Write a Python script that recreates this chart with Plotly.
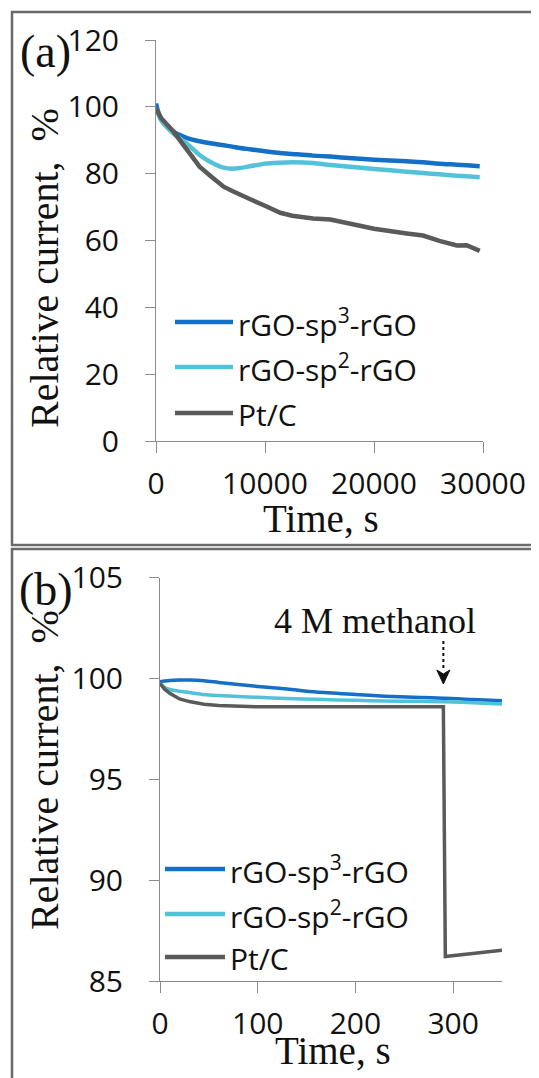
import plotly.graph_objects as go

# ---------------- data: panel (a) ----------------
time_a = [0, 500, 1600, 3000, 4000, 5000, 6200, 7000, 7700, 8600, 10000, 11400,
          12500, 14400, 16000, 18000, 20000, 23000, 24500, 26000, 27600, 28500, 29700]
sp3_a = [101.0, 96.0, 92.6, 90.5, 89.7, 89.1, 88.5, 88.1, 87.7, 87.3, 86.7, 86.2,
         85.9, 85.4, 85.1, 84.6, 84.2, 83.7, 83.4, 83.0, 82.7, 82.5, 82.2]
sp2_a = [99.5, 96.0, 92.0, 88.5, 85.6, 83.5, 81.8, 81.5, 81.7, 82.2, 83.0, 83.3,
         83.4, 83.2, 82.6, 82.0, 81.4, 80.6, 80.2, 79.8, 79.4, 79.2, 78.9]
ptc_a = [99.5, 96.5, 92.6, 86.5, 82.1, 79.3, 76.1, 74.8, 73.6, 72.4, 70.4, 68.3,
         67.4, 66.6, 66.3, 65.0, 63.5, 62.1, 61.5, 59.9, 58.5, 58.6, 56.9]

# ---------------- data: panel (b) ----------------
time_b = [0, 5, 10, 20, 30, 45, 60, 80, 100, 130, 160, 200, 230, 260, 290, 292, 320, 350]
sp3_b = [99.83, 99.87, 99.9, 99.92, 99.92, 99.88, 99.8, 99.7, 99.6, 99.47, 99.32,
         99.2, 99.12, 99.07, 99.02, 99.01, 98.95, 98.89]
sp2_b = [99.75, 99.55, 99.45, 99.36, 99.3, 99.2, 99.15, 99.1, 99.06, 99.0, 98.96,
         98.91, 98.88, 98.86, 98.84, 98.84, 98.79, 98.73]
ptc_b = [99.75, 99.45, 99.26, 98.98, 98.85, 98.72, 98.65, 98.6, 98.59, 98.59, 98.59,
         98.59, 98.59, 98.59, 98.59, 86.21, 86.35, 86.52]

series_names = ["rGO-sp<sup>3</sup>-rGO", "rGO-sp<sup>2</sup>-rGO", "Pt/C"]
series_colors = ["#1470C6", "#52C2DA", "#5A5A5A"]

xticks_a = [0, 10000, 20000, 30000]
yticks_a = [0, 20, 40, 60, 80, 100, 120]
xticks_b = [0, 100, 200, 300]
yticks_b = [85, 90, 95, 100, 105]

x_title = "Time, s"
y_title = "Relative current,  %"
arrow_time = 290
arrow_label = "4 M methanol"

# the page body adds an 8px margin; positions below are in window pixels
OX, OY = 8, 8
FW, FH = 539 - OX, 1078 - OY


def px(x):
    return (x - OX) / FW


def py(y):
    return 1 - (y - OY) / FH


SANS = "Open Sans, Liberation Sans, sans-serif"
SERIF = "Liberation Serif, Times New Roman, serif"
AXC = "#8C8C8C"
TXT = "#111111"

fig = go.Figure()

panel_a = [sp3_a, sp2_a, ptc_a]
panel_b = [sp3_b, sp2_b, ptc_b]
for i, (ys, name, col) in enumerate(zip(panel_a, series_names, series_colors)):
    fig.add_trace(go.Scatter(
        x=time_a, y=ys, mode="lines", name=name, showlegend=False,
        xaxis="x", yaxis="y",
        line=dict(color=col, width=4.5,
                  shape="spline" if i < 2 else "linear", smoothing=0.8),
    ))
for i, (ys, name, col) in enumerate(zip(panel_b, series_names, series_colors)):
    fig.add_trace(go.Scatter(
        x=time_b, y=ys, mode="lines", name=name, showlegend=False,
        xaxis="x2", yaxis="y2",
        line=dict(color=col, width=3.5,
                  shape="spline" if i < 2 else "linear", smoothing=0.8),
    ))


def xaxis_cfg(domain, rng, ticks, anchor):
    return dict(
        domain=domain, range=rng, anchor=anchor, automargin=False,
        tickvals=ticks, ticktext=[str(t) for t in ticks],
        ticks="outside", ticklen=11, tickcolor=AXC, tickwidth=1,
        showline=True, linecolor=AXC, linewidth=1,
        showgrid=False, zeroline=False,
        tickfont=dict(family=SANS, size=30, color=TXT),
        ticklabelstandoff=5,
    )


def yaxis_cfg(domain, rng, ticks, anchor):
    return dict(
        domain=domain, range=rng, anchor=anchor, automargin=False,
        tickvals=ticks, ticktext=[str(t) for t in ticks],
        ticks="outside", ticklen=10, tickcolor=AXC, tickwidth=1,
        showline=True, linecolor=AXC, linewidth=1,
        showgrid=False, zeroline=False,
        tickfont=dict(family=SANS, size=30, color=TXT),
        ticklabelstandoff=20,
    )


shapes = []
annotations = []

# outer frames
shapes.append(dict(type="rect", xref="paper", yref="paper",
                   x0=px(12), x1=1.05, y0=py(545), y1=py(12),
                   line=dict(color="#6A6A6A", width=2.5)))
shapes.append(dict(type="rect", xref="paper", yref="paper",
                   x0=px(12), x1=1.05, y0=-0.05, y1=py(549),
                   line=dict(color="#6A6A6A", width=2.5)))

# panel labels
annotations.append(dict(text="(a)", xref="paper", yref="paper", x=px(45), y=py(51),
                        showarrow=False, xanchor="center", yanchor="middle",
                        font=dict(family=SERIF, size=46, color=TXT)))
annotations.append(dict(text="(b)", xref="paper", yref="paper", x=px(46), y=py(589),
                        showarrow=False, xanchor="center", yanchor="middle",
                        font=dict(family=SERIF, size=46, color=TXT)))

# axis titles
for (xc, yc) in [(321, 519), (333, 1050)]:
    annotations.append(dict(text=x_title, xref="paper", yref="paper", x=px(xc), y=py(yc),
                            showarrow=False, xanchor="center", yanchor="middle",
                            font=dict(family=SERIF, size=39, color=TXT)))
for (xc, yc) in [(44, 268), (44, 770)]:
    annotations.append(dict(text=y_title, xref="paper", yref="paper", x=px(xc), y=py(yc),
                            showarrow=False, xanchor="center", yanchor="middle", textangle=-90,
                            font=dict(family=SERIF, size=40, color=TXT)))

# manual legends
legend_a = dict(x0=175, x1=233, tx=236, rows=[322, 367, 413])
legend_b = dict(x0=165, x1=225, tx=228, rows=[869, 914, 957])
for leg in (legend_a, legend_b):
    for name, col, yy in zip(series_names, series_colors, leg["rows"]):
        shapes.append(dict(type="line", xref="paper", yref="paper",
                           x0=px(leg["x0"]), x1=px(leg["x1"]), y0=py(yy), y1=py(yy),
                           line=dict(color=col, width=4.5)))
        annotations.append(dict(text=name, xref="paper", yref="paper",
                                x=px(leg["tx"]), y=py(yy + 1), showarrow=False,
                                xanchor="left", yanchor="middle",
                                font=dict(family=SANS, size=30, color=TXT)))

# methanol annotation: text, dotted stem and filled arrow head
annotations.append(dict(text=arrow_label, xref="x2", yref="paper", x=220.5, y=py(621),
                        showarrow=False, xanchor="center", yanchor="middle",
                        font=dict(family=SERIF, size=36, color=TXT)))
shapes.append(dict(type="line", xref="x2", yref="paper", x0=arrow_time, x1=arrow_time,
                   y0=py(641), y1=py(671), line=dict(color=TXT, width=2, dash="dot")))
shapes.append(dict(type="path", xref="x2", yref="paper", xsizemode="pixel",
                   ysizemode="pixel", xanchor=arrow_time, yanchor=py(684),
                   path="M-6.5,14 L0,0 L6.5,14 L0,10 Z",
                   fillcolor=TXT, line=dict(color=TXT, width=1)))

fig.update_layout(
    width=FW, height=FH,
    margin=dict(l=0, r=0, t=0, b=0),
    paper_bgcolor="white", plot_bgcolor="white",
    showlegend=False,
    xaxis=xaxis_cfg([px(156), px(483)], [0, 30000], xticks_a, "y"),
    yaxis=yaxis_cfg([py(441), py(40)], [0, 120], yticks_a, "x"),
    xaxis2=xaxis_cfg([px(160), px(502)], [0, 350], xticks_b, "y2"),
    yaxis2=yaxis_cfg([py(981), py(577.5)], [85, 105], yticks_b, "x2"),
    shapes=shapes,
    annotations=annotations,
)

fig.write_html("out.html")
